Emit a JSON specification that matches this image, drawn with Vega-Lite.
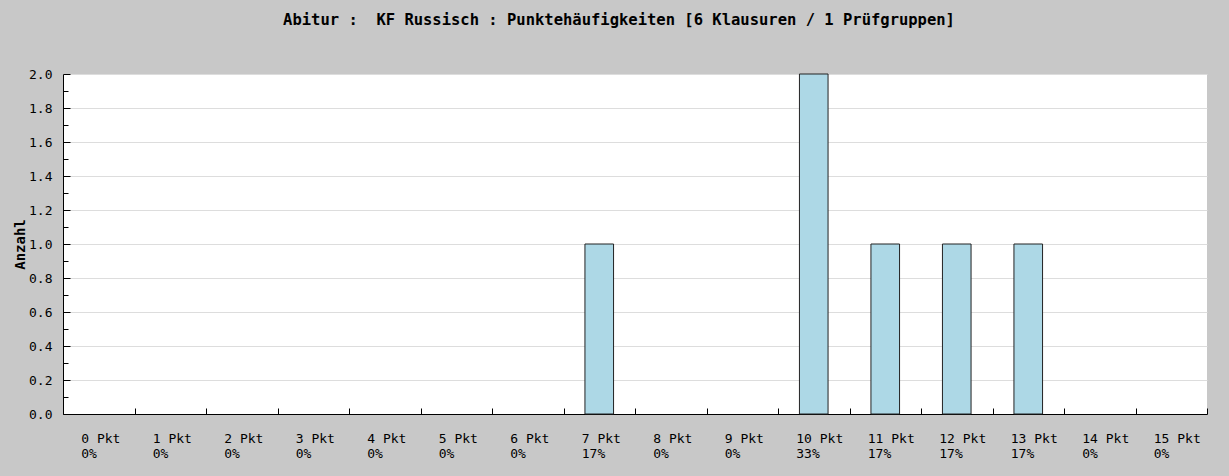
{
  "$schema": "https://vega.github.io/schema/vega-lite/v6.json",
  "autosize": {"type": "none"},
  "padding": {"left": 63, "top": 74, "right": 22, "bottom": 62},
  "width": 1144,
  "height": 340,
  "background": "#c8c8c8",
  "config": {
    "view": {"fill": "white", "stroke": null},
    "font": "DejaVu Sans Mono"
  },
  "title": {
    "text": "Abitur : \u00a0KF Russisch : Punktehäufigkeiten [6 Klausuren / 1 Prüfgruppen]",
    "font": "DejaVu Sans Mono",
    "fontSize": 15.5,
    "fontWeight": "bold",
    "color": "black",
    "anchor": "middle",
    "dx": -16,
    "offset": 40
  },
  "data": {
    "values": [
      {"label": "0 Pkt|0%", "anzahl": 0},
      {"label": "1 Pkt|0%", "anzahl": 0},
      {"label": "2 Pkt|0%", "anzahl": 0},
      {"label": "3 Pkt|0%", "anzahl": 0},
      {"label": "4 Pkt|0%", "anzahl": 0},
      {"label": "5 Pkt|0%", "anzahl": 0},
      {"label": "6 Pkt|0%", "anzahl": 0},
      {"label": "7 Pkt|17%", "anzahl": 1},
      {"label": "8 Pkt|0%", "anzahl": 0},
      {"label": "9 Pkt|0%", "anzahl": 0},
      {"label": "10 Pkt|33%", "anzahl": 2},
      {"label": "11 Pkt|17%", "anzahl": 1},
      {"label": "12 Pkt|17%", "anzahl": 1},
      {"label": "13 Pkt|17%", "anzahl": 1},
      {"label": "14 Pkt|0%", "anzahl": 0},
      {"label": "15 Pkt|0%", "anzahl": 0}
    ]
  },
  "mark": {
    "type": "bar",
    "width": {"band": 0.4},
    "fill": "#add8e6",
    "stroke": "#222222",
    "strokeWidth": 1
  },
  "encoding": {
    "x": {
      "field": "label",
      "type": "nominal",
      "sort": null,
      "scale": {"paddingInner": 0, "paddingOuter": 0},
      "axis": {
        "title": null,
        "labelAngle": 0,
        "labelExpr": "datum.value ? split(datum.value, '|') : ''",
        "labelAlign": "left",
        "labelBaseline": "top",
        "labelOffset": -18,
        "labelPadding": 24,
        "labelLineHeight": 15,
        "labelFont": "DejaVu Sans Mono",
        "labelFontSize": 13,
        "labelColor": "black",
        "tickBand": "extent",
        "tickSize": -6,
        "tickColor": "black",
        "domainColor": "black",
        "grid": false
      }
    },
    "y": {
      "field": "anzahl",
      "type": "quantitative",
      "scale": {"domain": [0, 2], "nice": false},
      "axis": {
        "title": "Anzahl",
        "titleFont": "DejaVu Sans Mono",
        "titleFontSize": 14,
        "titleFontWeight": "bold",
        "titleColor": "black",
        "titlePadding": 1,
        "values": [0, 0.1, 0.2, 0.3, 0.4, 0.5, 0.6, 0.7, 0.8, 0.9, 1.0, 1.1, 1.2, 1.3, 1.4, 1.5, 1.6, 1.7, 1.8, 1.9, 2.0],
        "labelExpr": "abs(datum.value*5 - round(datum.value*5)) < 0.001 ? format(datum.value, '.1f') : ''",
        "labelFont": "DejaVu Sans Mono",
        "labelFontSize": 13,
        "labelColor": "black",
        "labelPadding": 18,
        "tickSize": {"condition": {"test": "abs(datum.value*5 - round(datum.value*5)) < 0.001", "value": -7}, "value": -5},
        "tickColor": "black",
        "domainColor": "black",
        "grid": true,
        "gridColor": "#dddddd",
        "gridOpacity": {"condition": {"test": "abs(datum.value*5 - round(datum.value*5)) < 0.001", "value": 1}, "value": 0}
      }
    },
    "strokeOpacity": {"condition": {"test": "datum.anzahl == 0", "value": 0}, "value": 1}
  }
}
